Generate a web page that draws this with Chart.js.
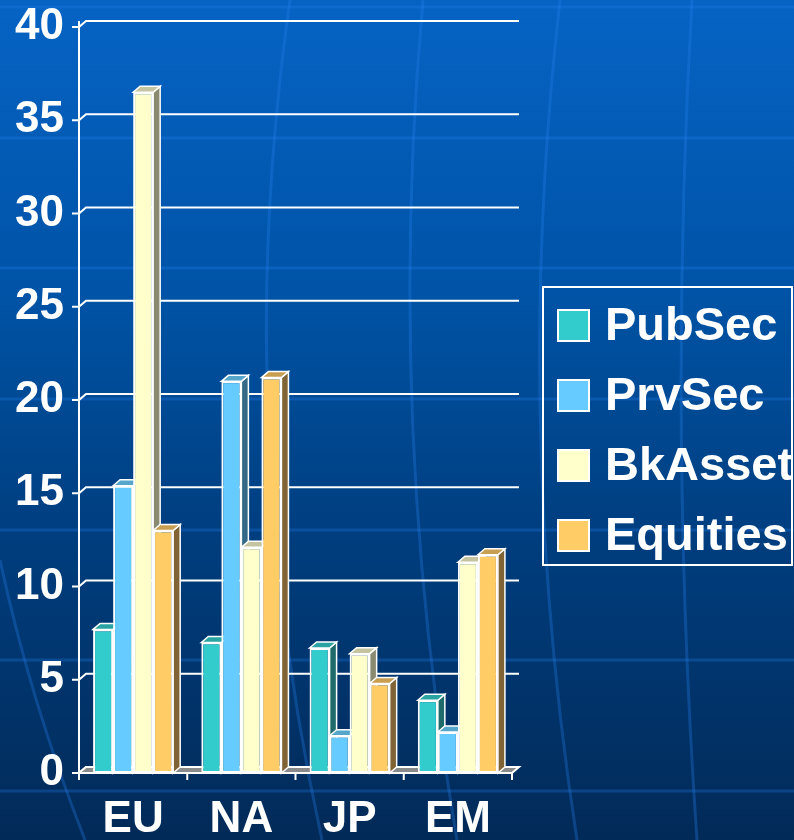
<!DOCTYPE html>
<html>
<head>
<meta charset="utf-8">
<script src="https://cdn.jsdelivr.net/npm/chart.js@4.4.1/dist/chart.umd.min.js"></script>
<style>
  html, body { margin: 0; padding: 0; overflow: hidden; background: #03407f; }
  #wrap { width: 794px; height: 840px; position: relative; }
</style>
</head>
<body>
<div id="wrap"><canvas id="chart"></canvas></div>
<script>
// regions on the x axis
const categories = ['EU', 'NA', 'JP', 'EM'];

// one array per series, in category order
const pubSec   = [7.7, 7.0, 6.7, 3.9];
const prvSec   = [15.4, 21.0, 2.0, 2.2];
const bkAsset  = [36.5, 12.1, 6.4, 11.3];
const equities = [13.0, 21.2, 4.8, 11.7];

const seriesNames = ['PubSec', 'PrvSec', 'BkAsset', 'Equities'];
const yTicks = [0, 5, 10, 15, 20, 25, 30, 35, 40];

const frontColors = ['#33cccc', '#66ccff', '#ffffcc', '#ffcc66'];
const sideColors  = ['#1f6b6b', '#356a86', '#8a8a70', '#806436'];
const topColors   = ['#2aa3a3', '#56a6cc', '#c4c4a0', '#c89e50'];

const FONT = "'Liberation Sans', Arial, sans-serif";
const DX = 7, DY = 6; // depth offset of the 3d look

// blue backdrop with the faint grid and meridian curves
const backdrop = {
  id: 'backdrop',
  beforeDraw(chart) {
    const ctx = chart.ctx;
    const w = chart.width, h = chart.height;
    ctx.save();
    const g = ctx.createLinearGradient(0, 0, 0, h);
    g.addColorStop(0, '#0663c4');
    g.addColorStop(0.35, '#0053a6');
    g.addColorStop(0.65, '#003d7d');
    g.addColorStop(1, '#022a58');
    ctx.fillStyle = g;
    ctx.fillRect(0, 0, w, h);

    ctx.strokeStyle = 'rgba(40, 130, 240, 0.28)';
    ctx.lineWidth = 3;
    [7, 138, 268, 399, 530, 660, 791].forEach(y => {
      ctx.beginPath();
      ctx.moveTo(0, y);
      ctx.lineTo(w, y);
      ctx.stroke();
    });
    const curves = [
      [0, 560, 30, 700, 85, 840],
      [290, 0, 230, 420, 322, 840],
      [423, 0, 385, 420, 457, 840],
      [560, 0, 512, 420, 577, 840],
      [692, 0, 668, 420, 697, 840]
    ];
    ctx.strokeStyle = 'rgba(40, 130, 240, 0.3)';
    curves.forEach(c => {
      ctx.beginPath();
      ctx.moveTo(c[0], c[1]);
      ctx.quadraticCurveTo(c[2], c[3], c[4], c[5]);
      ctx.stroke();
    });
    ctx.restore();
  }
};

function poly(ctx, pts, fill) {
  ctx.beginPath();
  ctx.moveTo(pts[0][0], pts[0][1]);
  for (let i = 1; i < pts.length; i++) ctx.lineTo(pts[i][0], pts[i][1]);
  ctx.closePath();
  ctx.fillStyle = fill;
  ctx.fill();
  ctx.stroke();
}

// back gridlines, floor, and the side/top faces of each bar
const bars3d = {
  id: 'bars3d',
  beforeDatasetsDraw(chart) {
    const ctx = chart.ctx;
    const a = chart.chartArea;
    const ys = chart.scales.y;
    const xs = chart.scales.x;
    ctx.save();
    ctx.strokeStyle = '#ffffff';
    ctx.lineWidth = 2;

    // value axis with ticks and back-wall gridlines
    ctx.beginPath();
    ctx.moveTo(a.left, a.top - DY);
    ctx.lineTo(a.left, a.bottom + 7);
    ctx.stroke();
    yTicks.forEach(v => {
      const y = ys.getPixelForValue(v);
      ctx.beginPath();
      ctx.moveTo(a.left - 7, y);
      ctx.lineTo(a.left, y);
      ctx.lineTo(a.left + DX, y - DY);
      ctx.lineTo(a.right + DX, y - DY);
      ctx.stroke();
    });

    // floor
    poly(ctx, [[a.left, a.bottom], [a.left + DX, a.bottom - DY],
               [a.right + DX, a.bottom - DY], [a.right, a.bottom]], '#8a8a8a');

    // category separator ticks
    const step = xs.getPixelForValue(1) - xs.getPixelForValue(0);
    for (let i = 0; i <= categories.length; i++) {
      const x = xs.getPixelForValue(0) - step / 2 + i * step;
      ctx.beginPath();
      ctx.moveTo(x, a.bottom);
      ctx.lineTo(x, a.bottom + 7);
      ctx.stroke();
    }

    // sides and tops, left to right so later bars overlap earlier ones
    const bars = [];
    chart.data.datasets.forEach((ds, i) => {
      chart.getDatasetMeta(i).data.forEach(el => {
        bars.push({ p: el.getProps(['x', 'y', 'base', 'width'], true), i });
      });
    });
    bars.sort((m, n) => m.p.x - n.p.x);
    ctx.lineWidth = 1.5;
    bars.forEach(b => {
      const l = b.p.x - b.p.width / 2, r = b.p.x + b.p.width / 2;
      const t = b.p.y, base = b.p.base;
      poly(ctx, [[r, t], [r + DX, t - DY], [r + DX, base - DY], [r, base]], sideColors[b.i]);
      poly(ctx, [[l, t], [l + DX, t - DY], [r + DX, t - DY], [r, t]], topColors[b.i]);
    });
    ctx.restore();
  }
};

// framed legend to the right of the plot
const boxLegend = {
  id: 'boxLegend',
  afterDraw(chart) {
    const ctx = chart.ctx;
    ctx.save();
    ctx.strokeStyle = '#ffffff';
    ctx.lineWidth = 2;
    ctx.strokeRect(543, 287, 249, 278);
    ctx.font = 'bold 47px ' + FONT;
    ctx.textBaseline = 'middle';
    ctx.textAlign = 'left';
    chart.data.datasets.forEach((ds, i) => {
      const cy = 325 + i * 70;
      ctx.fillStyle = ds.backgroundColor;
      ctx.fillRect(558, cy - 15, 31, 31);
      ctx.strokeRect(558, cy - 15, 31, 31);
      ctx.fillStyle = '#ffffff';
      ctx.fillText(ds.label, 605, cy + 2);
    });
    ctx.restore();
  }
};

const seriesData = [pubSec, prvSec, bkAsset, equities];

new Chart(document.getElementById('chart'), {
  type: 'bar',
  data: {
    labels: categories,
    datasets: seriesNames.map((name, i) => ({
      label: name,
      data: seriesData[i],
      backgroundColor: frontColors[i],
      borderColor: '#ffffff',
      borderWidth: 2,
      borderSkipped: false,
      categoryPercentage: 0.74,
      barPercentage: 1.0
    }))
  },
  options: {
    responsive: true,
    maintainAspectRatio: false,
    animation: false,
    layout: { padding: { top: 27, right: 282, left: 0, bottom: 0 } },
    plugins: {
      legend: { display: false },
      tooltip: { enabled: false }
    },
    scales: {
      x: {
        grid: { display: false, drawTicks: false },
        border: { display: false },
        ticks: {
          color: '#ffffff',
          font: { family: FONT, size: 44, weight: 'bold' },
          padding: 20,
          maxRotation: 0
        },
        afterFit(scale) {
          scale.height = 67;
          scale.paddingLeft = 0;
          scale.paddingRight = 0;
        }
      },
      y: {
        min: 0,
        max: 40,
        grid: { display: false, drawTicks: false },
        border: { display: false },
        ticks: {
          stepSize: 5,
          color: '#ffffff',
          font: { family: FONT, size: 44, weight: 'bold' },
          padding: 15
        },
        afterFit(scale) {
          scale.width = 79;
          scale.paddingTop = 0;
          scale.paddingBottom = 0;
        }
      }
    }
  },
  plugins: [backdrop, bars3d, boxLegend]
});
</script>
</body>
</html>
